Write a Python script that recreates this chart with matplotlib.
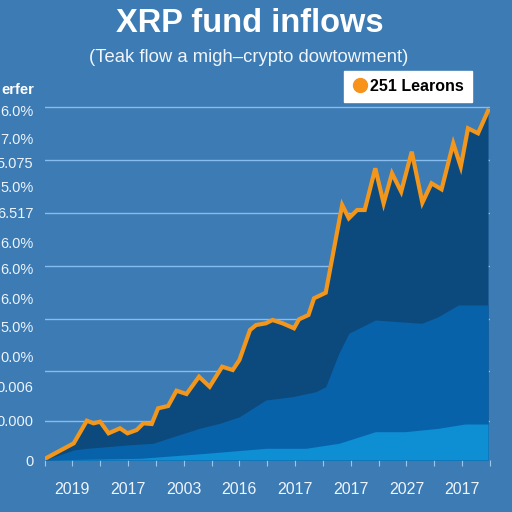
import numpy as np
import matplotlib
matplotlib.use("Agg")
import matplotlib.pyplot as plt
from matplotlib.lines import Line2D

plt.rcParams['font.family'] = ['Liberation Sans', 'DejaVu Sans']

# data (arbitrary units)
flow_x = [0.0, 1.05, 1.52, 1.76, 2.0, 2.30, 2.71, 2.98, 3.31, 3.55, 3.85, 4.08, 4.44, 4.74,
          5.10, 5.55, 5.93, 6.38, 6.76, 7.0, 7.38, 7.60, 7.95, 8.19, 8.55, 8.96, 9.14, 9.48,
          9.68, 10.10, 10.69, 10.93, 11.23, 11.5, 11.88, 12.18, 12.48, 12.81, 13.19, 13.57,
          13.90, 14.26, 14.68, 14.95, 15.21, 15.57, 15.93]
flow_y = [1, 16.7, 39.3, 36.7, 38.3, 26.7, 31.7, 26.7, 30, 36.7, 36, 51.7, 54, 69.3,
          66, 83.3, 73.3, 93.3, 90, 100, 130, 135, 136.7, 140, 136.7, 131.7, 140.7, 145,
          161.7, 167.3, 255, 241.7, 250, 250, 291.7, 256.7, 286.7, 268.3, 308.3, 257.3,
          276.7, 270.7, 316.7, 293.3, 331.7, 326.7, 349.3]

mid_x = [0, 1.05, 1.52, 2.24, 2.95, 3.90, 4.62, 5.57, 6.29, 7.0, 7.95, 8.90, 9.74, 10.1,
         10.57, 10.93, 11.88, 12.71, 13.55, 14.14, 14.86, 15.93]
mid_y = [0, 10, 11.7, 13.3, 15, 16.7, 23.3, 31.7, 36.7, 43.3, 60, 63.3, 68.3, 73.3,
         106.7, 126.7, 140, 138.3, 136.7, 143.3, 155, 155]

low_x = [0, 3.43, 5.8, 7.95, 9.38, 10.57, 11.88, 12.95, 14.14, 15.1, 15.93]
low_y = [0, 1.7, 6.7, 11.7, 11.7, 16.7, 28.3, 28.3, 31.7, 36, 36]

ytick_pos = [350, 322, 298, 273, 247, 218, 192, 162, 133, 103, 73, 40, 0]
ytick_labels = ['6.0%', '7.0%', '5.075', '5.0%', '6.517', '6.0%', '6.0%', '6.0%',
                '5.0%', '0.0%', '0.006', '0.000', '0']
grid_pos = [353, 300, 247, 194, 141, 89, 39]
xtick_pos = list(range(17))
xtick_labels = ['', '2019', '', '2017', '', '2003', '', '2016', '', '2017', '', '2017',
                '', '2027', '', '2017', '']

bg = '#3c7bb4'
fig = plt.figure(figsize=(5.12, 5.12), dpi=100)
fig.patch.set_facecolor(bg)
ax = fig.add_axes([44.5/512, 52/512, 445.5/512, 360/512])
ax.set_facecolor(bg)

for g in grid_pos:
    ax.axhline(g, color='#86bcee', lw=1.0, zorder=0)

ax.fill_between(flow_x, 0, flow_y, color='#0c4a7e', lw=0, zorder=1)
ax.fill_between(mid_x, 0, mid_y, color='#0762aa', lw=0, zorder=2)
ax.fill_between(low_x, 0, low_y, color='#0e8ed3', lw=0, zorder=3)
ax.plot(flow_x, flow_y, color='#f3961c', lw=3.0, solid_joinstyle='miter', zorder=4)

ax.set_xlim(0, 16)
ax.set_ylim(0, 360)
for s in ax.spines.values():
    s.set_visible(False)

# labels are clipped at the left edge on purpose, same as the reference
ax.set_yticks(ytick_pos, ytick_labels)
ax.tick_params(axis='y', length=0, pad=8, labelsize=10.5, labelcolor='#eef4fa')
ax.set_xticks(xtick_pos, xtick_labels)
ax.tick_params(axis='x', length=4, width=0.8, color='#9cc6ea', pad=12,
               labelsize=11.5, labelcolor='#eef4fa')

fig.text(0.487, 1 - 24/512, 'XRP fund inflows', ha='center', va='center',
         fontsize=23.5, fontweight='bold', color='white')
fig.text(0.486, 1 - 57/512, '(Teak flow a migh\u2013crypto dowtowment)', ha='center',
         va='center', fontsize=13.3, color='#f0f5fa')
fig.text(34/512, 1 - 90/512, 'erfer', ha='right', va='center', fontsize=10.5,
         fontweight='bold', color='white')

handle = Line2D([], [], marker='o', ls='', color='#f7931a', markersize=10)
leg = fig.legend([handle], ['251 Learons'], loc='upper right',
                 bbox_to_anchor=(472/512, 1 - 71/512), frameon=True, fancybox=False,
                 prop={'weight': 'bold', 'size': 11.5}, handletextpad=0.15,
                 borderpad=0.5, handlelength=1.0, borderaxespad=0)
leg.get_frame().set_facecolor('white')
leg.get_frame().set_edgecolor('white')
leg.get_frame().set_alpha(1)

fig.savefig('out.png', dpi=100, facecolor=bg)
